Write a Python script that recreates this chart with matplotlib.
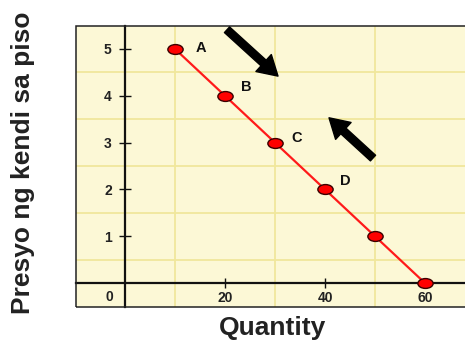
import numpy as np
import matplotlib
matplotlib.use("Agg")
import matplotlib.pyplot as plt
from matplotlib.path import Path
from matplotlib.transforms import Affine2D
from matplotlib.patches import Rectangle

plt.rcParams['font.family'] = ['Liberation Sans', 'DejaVu Sans']

# ---- data ----
quantity = [10, 20, 30, 40, 50, 60]
price = [5, 4, 3, 2, 1, 0]
point_labels = ['A', 'B', 'C', 'D']
x_ticks = [20, 40, 60]
x_tick_labels = ['20', '40', '60']
y_ticks = [1, 2, 3, 4, 5]
y_tick_labels = ['1', '2', '3', '4', '5']
x_title = 'Quantity'
y_title = 'Presyo ng kendi sa piso'

# ---- layout / style ----
W, H = 465, 346
fig = plt.figure(figsize=(W / 100, H / 100), dpi=100)
ax = fig.add_axes([76 / W, (H - 307) / H, 389 / W, 281 / H])
ax.set_xlim(-9.8, 68)
ax.set_ylim(-0.51, 5.49)

bg = '#FCF8D6'
gridc = '#F0E79C'
ax.set_facecolor(bg)

ax.set_xticks(np.arange(10, 70, 10), minor=True)
ax.set_yticks(np.arange(0.5, 5.5, 0.5), minor=True)
ax.grid(which='minor', color=gridc, lw=1.3, zorder=0)
ax.grid(which='major', visible=False)
ax.tick_params(which='minor', length=0)

for s in ['top', 'right']:
    ax.spines[s].set_visible(False)
for s in ['left', 'bottom']:
    ax.spines[s].set_position(('data', 0))
    ax.spines[s].set_linewidth(1.6)
    ax.spines[s].set_color('#111111')
    ax.spines[s].set_zorder(2)

border = Rectangle((0, 0), 1.05, 1, transform=ax.transAxes, fill=False,
                   ec='#222222', lw=1.1, clip_on=False, zorder=3)
ax.add_patch(border)

ax.set_xticks(x_ticks)
ax.set_xticklabels(x_tick_labels, fontsize=10, fontweight='bold', color='#222222')
ax.set_yticks(y_ticks)
ax.set_yticklabels(y_tick_labels, fontsize=10, fontweight='bold', color='#222222')
ax.tick_params(axis='x', which='major', direction='inout', length=7, width=1, pad=2.5, color='#111111')
ax.tick_params(axis='y', which='major', direction='inout', length=9, width=1, pad=5, color='#111111')
ax.text(-3.2, -0.3, '0', ha='center', va='center', fontsize=10, fontweight='bold', color='#222222')

# ellipse marker
circ = Path.unit_circle()
ell = Path(Affine2D().scale(1.55, 1.0).transform(circ.vertices), circ.codes)

ax.plot(quantity, price, color='#FF1A1A', lw=1.6, zorder=4, clip_on=False)
ax.plot(quantity, price, ls='none', marker=ell, markersize=11,
        mfc='#FF0000', mec='#3A0000', mew=1.0, zorder=5, clip_on=False)

label_offsets = [(26, 1), (21, 9), (22, 5), (20, 8)]
for lab, qx, py, off in zip(point_labels, quantity, price, label_offsets):
    ax.annotate(lab, (qx, py), xytext=off, textcoords='offset pixels',
                ha='center', va='center', fontsize=10.5, fontweight='bold', color='#111111')

arrow_style = 'simple,tail_width=0.55,head_width=1.65,head_length=1.4'
arrows = [((20.4, 5.41), (30.6, 4.42)), ((49.6, 2.67), (40.8, 3.53))]
for tail, tip in arrows:
    ax.annotate('', xy=tip, xytext=tail,
                arrowprops=dict(arrowstyle=arrow_style, mutation_scale=10,
                                color='black', shrinkA=0, shrinkB=0), zorder=6)

fig.text(23 / W, 1 - 163 / H, y_title, rotation=90, ha='center', va='center',
         fontsize=19, fontweight='bold', color='#222222')
fig.text(273 / W, 1 - 328 / H, x_title, ha='center', va='center',
         fontsize=19, fontweight='bold', color='#222222')

fig.savefig('out.png', dpi=100, facecolor='white')
